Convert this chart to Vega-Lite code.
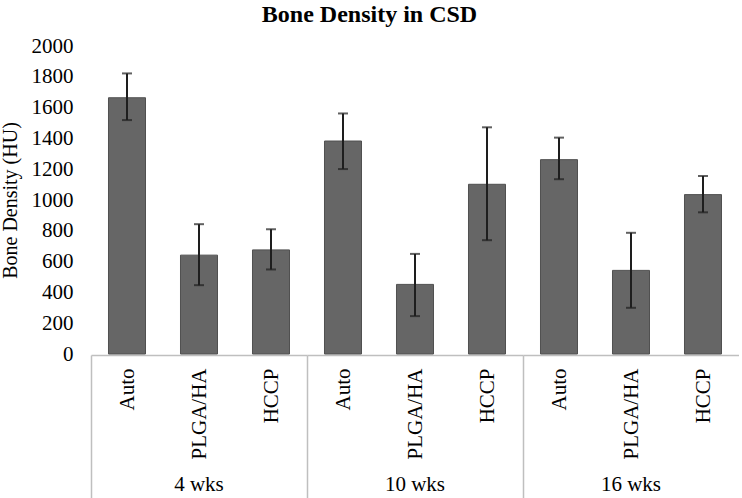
{
  "$schema": "https://vega.github.io/schema/vega-lite/v6.json",
  "padding": {"left": 0, "top": 3, "right": 0, "bottom": 0},
  "title": {"text": "Bone Density in CSD", "font": "Liberation Serif", "fontSize": 24, "fontWeight": "bold", "color": "black", "anchor": "middle", "offset": 8},
  "data": {"values": [
    {"week": "4 wks", "treatment": "Auto", "mean": 1664, "lo": 1519, "hi": 1822},
    {"week": "4 wks", "treatment": "PLGA/HA", "mean": 642, "lo": 447, "hi": 843},
    {"week": "4 wks", "treatment": "HCCP", "mean": 676, "lo": 549, "hi": 810},
    {"week": "10 wks", "treatment": "Auto", "mean": 1383, "lo": 1201, "hi": 1562},
    {"week": "10 wks", "treatment": "PLGA/HA", "mean": 452, "lo": 246, "hi": 650},
    {"week": "10 wks", "treatment": "HCCP", "mean": 1102, "lo": 739, "hi": 1472},
    {"week": "16 wks", "treatment": "Auto", "mean": 1262, "lo": 1135, "hi": 1405},
    {"week": "16 wks", "treatment": "PLGA/HA", "mean": 543, "lo": 300, "hi": 787},
    {"week": "16 wks", "treatment": "HCCP", "mean": 1035, "lo": 920, "hi": 1156}
  ]},
  "facet": {
    "column": {
      "field": "week",
      "type": "nominal",
      "sort": ["4 wks", "10 wks", "16 wks"],
      "header": {"title": null, "labelOrient": "bottom", "labelFont": "Liberation Serif", "labelFontSize": 21, "labelColor": "black", "labelPadding": -25}
    }
  },
  "spacing": 0,
  "spec": {
    "width": 216,
    "height": 308,
    "encoding": {
      "x": {
        "field": "treatment",
        "type": "nominal",
        "sort": ["Auto", "PLGA/HA", "HCCP"],
        "scale": {"paddingInner": 0, "paddingOuter": 0},
        "axis": {
          "title": null,
          "labelAngle": -90,
          "labelPadding": -130,
          "labelFont": "Liberation Serif",
          "labelFontSize": 21,
          "labelColor": "black",
          "domainColor": "#bfbfbf",
          "domainWidth": 1.5,
          "tickBand": "extent",
          "tickColor": "#bfbfbf",
          "tickWidth": 1.5,
          "tickSize": 143,
          "tickOpacity": {"condition": {"test": "datum.extra", "value": 1}, "value": 0}
        }
      }
    },
    "layer": [
      {
        "mark": {"type": "bar", "color": "#666666", "stroke": "#505050", "strokeWidth": 1, "width": {"band": 0.514}},
        "encoding": {
          "y": {
            "field": "mean",
            "type": "quantitative",
            "scale": {"domain": [0, 2000], "nice": false},
            "axis": {"title": "Bone Density (HU)", "values": [0, 200, 400, 600, 800, 1000, 1200, 1400, 1600, 1800, 2000], "format": "d", "labelOverlap": false}
          }
        }
      },
      {
        "mark": {"type": "rule", "color": "#1e1e1e", "strokeWidth": 2},
        "encoding": {
          "y": {"field": "lo", "type": "quantitative", "axis": {"title": "Bone Density (HU)", "values": [0, 200, 400, 600, 800, 1000, 1200, 1400, 1600, 1800, 2000], "format": "d", "labelOverlap": false}},
          "y2": {"field": "hi"}
        }
      },
      {
        "mark": {"type": "tick", "color": "#1e1e1e", "size": 10, "thickness": 2},
        "encoding": {"y": {"field": "lo", "type": "quantitative", "axis": {"title": "Bone Density (HU)", "values": [0, 200, 400, 600, 800, 1000, 1200, 1400, 1600, 1800, 2000], "format": "d", "labelOverlap": false}}}
      },
      {
        "mark": {"type": "tick", "color": "#1e1e1e", "size": 10, "thickness": 2},
        "encoding": {"y": {"field": "hi", "type": "quantitative", "axis": {"title": "Bone Density (HU)", "values": [0, 200, 400, 600, 800, 1000, 1200, 1400, 1600, 1800, 2000], "format": "d", "labelOverlap": false}}}
      }
    ]
  },
  "config": {
    "view": {"stroke": null},
    "background": "white",
    "axisY": {
      "labelOverlap": false,
      "titleFont": "Liberation Serif",
      "titleFontSize": 20,
      "titleFontWeight": "normal",
      "titleColor": "black",
      "titlePadding": 11,
      "grid": false,
      "domain": false,
      "ticks": false,
      "tickSize": 0,
      "labelPadding": 18,
      "labelFont": "Liberation Serif",
      "labelFontSize": 21,
      "labelColor": "black"
    }
  }
}
